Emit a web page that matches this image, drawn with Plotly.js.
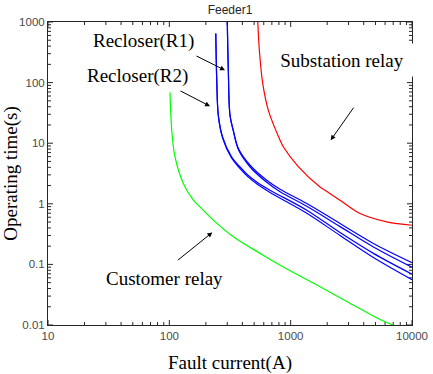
<!DOCTYPE html>
<html>
<head>
<meta charset="utf-8">
<script src="https://cdn.plot.ly/plotly-3.0.1.min.js"></script>
<style>html,body{margin:0;padding:0;background:#fff;}#chart{width:433px;height:374px;}</style>
</head>
<body>
<div id="chart"></div>
<script>
// Fault current (A) and operating time (s)
const customerCurrent = [101.3, 104.7, 111.4, 130.4, 157.8, 179, 230.6, 337, 560, 818, 1538, 2898, 5459, 6950];
const customerTime    = [69, 16.3, 5.93, 2.16, 1.146, 0.889, 0.537, 0.285, 0.152, 0.097, 0.0492, 0.0245, 0.0123, 0.01];

const r1Current = [300.5, 306.4, 316.5, 337, 372, 463, 635, 818, 1358, 2553, 4808, 10000];
const r1TimeA   = [1000, 159, 28.8, 16.3, 8.09, 4.33, 2.45, 1.74, 1.01, 0.473, 0.222, 0.107];
const r1TimeB   = [1000, 157, 28.2, 15.8, 7.7, 4.05, 2.26, 1.58, 0.91, 0.42, 0.194, 0.090];

const r2Current = [241.5, 246, 253.5, 274.6, 325.6, 383, 445.6, 528, 676, 1358, 2553, 4808, 10000];
const r2TimeA   = [647, 109, 28.8, 12.75, 5.97, 4.05, 2.96, 2.27, 1.68, 0.785, 0.335, 0.152, 0.069];
const r2TimeB   = [647, 107, 28, 12.3, 5.7, 3.82, 2.78, 2.12, 1.54, 0.70, 0.30, 0.13, 0.056];

const subCurrent = [536, 552, 589, 655, 818, 872, 1151, 1746, 1921, 2553, 3733, 6194, 10000];
const subTime    = [1000, 339, 96, 34.8, 11.2, 8.65, 4.16, 1.90, 1.68, 1.146, 0.692, 0.503, 0.443];

const xTickVals = [10, 100, 1000, 10000];
const xTickText = ['10', '100', '1000', '10000'];
const yTickVals = [0.01, 0.1, 1, 10, 100, 1000];
const yTickText = ['0.01', '0.1', '1', '10', '100', '1000'];

const chartTitle = 'Feeder1';
const xTitle = 'Fault current(A)';
const yTitle = 'Operating time(s)';
const labels = {r1: 'Recloser(R1)', r2: 'Recloser(R2)', sub: 'Substation relay', cust: 'Customer relay'};

const W = 433, H = 374, M = {l: 48, r: 21, t: 22, b: 49};
const plotW = W - M.l - M.r, plotH = H - M.t - M.b;
const xLog = [1, 4], yLog = [-2, 3];

// inside tick marks (major + minor) on all four sides, built as one line trace
function tickTrace() {
  const x = [], y = [];
  const pxPerDecX = plotW / (xLog[1] - xLog[0]);
  const pxPerDecY = plotH / (yLog[1] - yLog[0]);
  function each(vals, cb) {
    vals.forEach(function (d, i) {
      cb(d, 5);
      if (i < vals.length - 1) for (let k = 2; k <= 9; k++) cb(k * d, 3);
    });
  }
  const yBot = Math.pow(10, yLog[0]), yTop = Math.pow(10, yLog[1]);
  const xLeft = Math.pow(10, xLog[0]), xRight = Math.pow(10, xLog[1]);
  each(xTickVals, function (v, len) {
    const f = Math.pow(10, len / pxPerDecY);
    x.push(v, v, null, v, v, null);
    y.push(yBot, yBot * f, null, yTop, yTop / f, null);
  });
  each(yTickVals, function (v, len) {
    const f = Math.pow(10, len / pxPerDecX);
    x.push(xLeft, xLeft * f, null, xRight, xRight / f, null);
    y.push(v, v, null, v, v, null);
  });
  return {x: x, y: y, type: 'scatter', mode: 'lines', connectgaps: false,
          line: {color: '#262626', width: 1}, hoverinfo: 'skip', showlegend: false};
}

function line(x, y, color, w) {
  return {x: x, y: y, type: 'scatter', mode: 'lines',
          line: {color: color, width: w, shape: 'spline', smoothing: 1},
          hoverinfo: 'skip', showlegend: false};
}

const traces = [
  tickTrace(),
  line(customerCurrent, customerTime, '#00ff00', 1.2),
  line(r2Current, r2TimeA, '#0000ff', 1.2),
  line(r2Current, r2TimeB, '#0000ff', 1.2),
  line(r1Current, r1TimeA, '#0000ff', 1.2),
  line(r1Current, r1TimeB, '#0000ff', 1.2),
  line(subCurrent, subTime, '#ff0000', 1.2)
];

const serif = 'Liberation Serif, Times New Roman, serif';
const sans = 'Liberation Sans, Arial, sans-serif';
const axisCommon = {
  type: 'log', showgrid: false, zeroline: false,
  showline: true, linecolor: '#262626', linewidth: 1, mirror: true,
  ticks: '', tickfont: {family: sans, size: 11.5, color: '#4a4a4a'},
  tickmode: 'array', automargin: false
};

function txt(text, x, y, extra) {
  return Object.assign({xref: 'paper', yref: 'paper', x: x, y: y, text: text, showarrow: false,
    xanchor: 'center', yanchor: 'middle', font: {family: serif, size: 19, color: '#000'}}, extra || {});
}
function arrow(x, y, ax, ay) {
  return {xref: 'paper', yref: 'paper', x: x, y: y, text: '', showarrow: true,
    ax: ax, ay: ay, arrowhead: 2, arrowsize: 1, arrowwidth: 1, arrowcolor: '#000', standoff: 0, startstandoff: 0};
}

const layout = {
  width: W, height: H,
  margin: M,
  paper_bgcolor: '#fff', plot_bgcolor: '#fff',
  title: {text: chartTitle, x: 0.5, xref: 'paper', xanchor: 'center', y: 1 - 10 / H, yref: 'container', yanchor: 'middle',
          font: {family: sans, size: 12, color: '#262626'}},
  xaxis: Object.assign({}, axisCommon, {range: xLog, tickvals: xTickVals, ticktext: xTickText,
    title: {text: xTitle, font: {family: serif, size: 19, color: '#000'}, standoff: 14}}),
  yaxis: Object.assign({}, axisCommon, {range: yLog, tickvals: yTickVals, ticktext: yTickText,
    title: {text: yTitle, font: {family: serif, size: 19, color: '#000'}, standoff: 0}}),
  annotations: [
    txt(labels.r1, 0.2618, 0.9374),
    txt(labels.r2, 0.2464, 0.8210),
    txt(labels.sub, 0.8077, 0.8760, {bgcolor: '#fff', width: 144, height: 24, borderpad: 4}),
    txt(labels.cust, 0.3214, 0.1540),
    arrow(0.4863, 0.8407, -30, -15),
    arrow(0.4451, 0.7221, -31, -16),
    arrow(0.7766, 0.6100, 24, -34),
    arrow(0.4514, 0.3056, -36, 29)
  ]
};

Plotly.newPlot('chart', traces, layout, {displayModeBar: false, staticPlot: true});
</script>
</body>
</html>
